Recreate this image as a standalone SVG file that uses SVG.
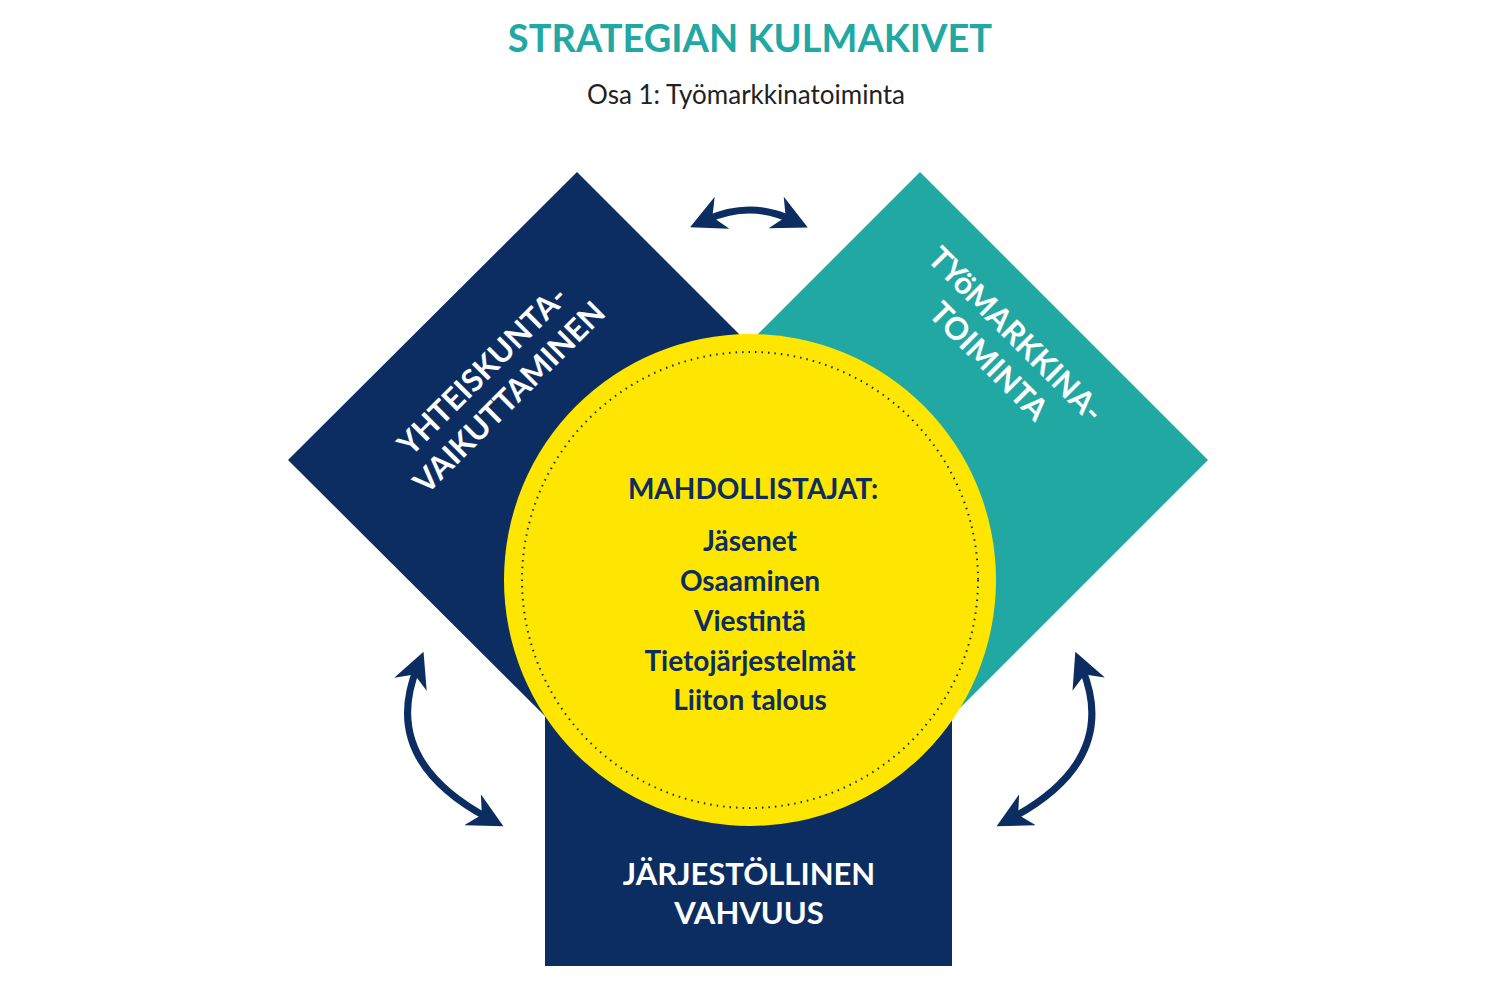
<svg xmlns="http://www.w3.org/2000/svg" width="1500" height="1000" viewBox="0 0 1500 1000">
<defs>
<marker id="ah" viewBox="0 0 10 10" refX="5" refY="5" markerWidth="5" markerHeight="5" orient="auto-start-reverse" markerUnits="strokeWidth"><path d="M0,0 L10,5 L0,10 L3,5 z" fill="#0b2d62"/></marker>
<style>
.t{font-family:"Lato","Open Sans",sans-serif;font-weight:bold;}
.w{fill:#fff;font-size:31px;}
.n{fill:#0b2d62;font-size:28px;text-anchor:middle;}
.c{fill:none;stroke:#0b2d62;stroke-width:7;marker-start:url(#ah);marker-end:url(#ah);}
</style>
</defs>
<rect width="1500" height="1000" fill="#fff"/>
<text x="750" y="52" text-anchor="middle" class="t" font-size="38" fill="#22a8a3">STRATEGIAN KULMAKIVET</text>
<text x="746" y="104" text-anchor="middle" font-family="Lato,sans-serif" font-size="26" fill="#222">Osa 1: Työmarkkinatoiminta</text>
<g id="left"><polygon points="577,172 865,460 577,748 288,460" fill="#0b2d62"/>
<text class="t w" text-anchor="middle" transform="translate(490,378) rotate(-45)"><tspan x="0" y="0">YHTEISKUNTA-</tspan><tspan x="0" y="38">VAIKUTTAMINEN</tspan></text></g>
<g id="right"><polygon points="920,172 1208,460 920,748 632,460" fill="#22a8a3"/>
<text class="t w" text-anchor="middle" transform="translate(1008,342) rotate(45)"><tspan x="0" y="0">TYöMARKKINA-</tspan><tspan x="0" y="38">TOIMINTA</tspan></text></g>
<g id="bottom"><rect x="545" y="700" width="407" height="266" fill="#0b2d62"/>
<text class="t w" text-anchor="middle"><tspan x="749" y="885">JÄRJESTÖLLINEN</tspan><tspan x="749" y="924">VAHVUUS</tspan></text></g>
<g id="center"><circle cx="750" cy="580" r="246" fill="#ffe600"/>
<circle cx="750" cy="580" r="228" fill="none" stroke="#0b2d62" stroke-width="2" stroke-dasharray="1.5 5"/>
<text class="t n" x="753" y="499" font-size="31">MAHDOLLISTAJAT:</text>
<text class="t n" x="750" y="551">Jäsenet</text>
<text class="t n" x="750" y="591">Osaaminen</text>
<text class="t n" x="750" y="631">Viestintä</text>
<text class="t n" x="750" y="671">Tietojärjestelmät</text>
<text class="t n" x="750" y="710">Liiton talous</text></g>
<g id="connectors">
<path class="c" d="M706,220 Q750,200 792,220"/>
<path class="c" d="M417,668 Q380,760 488,818"/>
<path class="c" d="M1082,668 Q1120,760 1012,818"/>
</g>
</svg>
